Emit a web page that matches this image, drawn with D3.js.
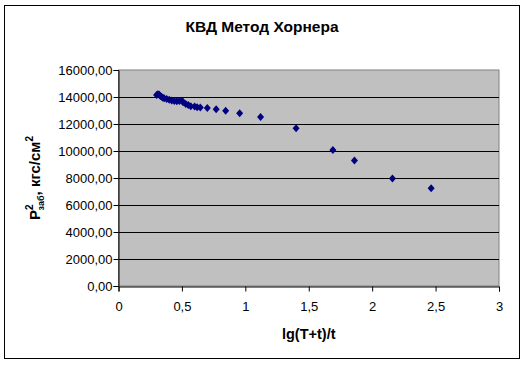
<!DOCTYPE html>
<html><head><meta charset="utf-8">
<script src="https://cdn.jsdelivr.net/npm/d3@7"></script>
<style>body{margin:0;background:#fff}svg{display:block;font-family:"Liberation Sans",Arial,sans-serif}</style>
</head><body><svg id="c" width="525" height="365"></svg>
<script>
const xVals = [0.30,0.31,0.32,0.33,0.34,0.35,0.36,0.38,0.40,0.42,0.44,0.46,0.48,0.50,0.51,0.53,0.55,0.57,0.60,0.62,0.645,0.70,0.77,0.845,0.955,1.12,1.40,1.69,1.86,2.16,2.465];
const yVals = [14150,14200,14180,14080,14020,13950,13900,13860,13800,13750,13700,13680,13700,13720,13620,13480,13400,13320,13300,13250,13220,13190,13090,12990,12800,12520,11680,10070,9300,7970,7250];
const xTicks = [0,0.5,1,1.5,2,2.5,3];
const yTicks = [0,2000,4000,6000,8000,10000,12000,14000,16000];
const title = "КВД Метод Хорнера";
const xTitle = "lg(T+t)/t";

const svg = d3.select("#c");
svg.append("rect").attr("x",4.5).attr("y",5.5).attr("width",515).attr("height",353).attr("fill","#fff").attr("stroke","#000");

const L=118.5, R=499, T=70, B=286;
const x = d3.scaleLinear().domain([0,3]).range([L,R]);
const y = d3.scaleLinear().domain([0,16000]).range([B,T]);

svg.append("rect").attr("x",L).attr("y",T).attr("width",R-L).attr("height",B-T).attr("fill","#c0c0c0").attr("stroke","#808080");

svg.append("g").selectAll("line").data(yTicks.filter(d=>d>0&&d<16000)).join("line")
  .attr("x1",L).attr("x2",R).attr("y1",d=>Math.round(y(d))+0.5).attr("y2",d=>Math.round(y(d))+0.5).attr("stroke","#000");

const fmt = d => d3.format(".2f")(d).replace(".",",");
const ya = svg.append("g").attr("transform",`translate(${L},0)`)
  .call(d3.axisLeft(y).tickValues(yTicks).tickFormat(fmt).tickSize(5).tickPadding(2));
const xa = svg.append("g").attr("transform",`translate(0,${B+0.5})`)
  .call(d3.axisBottom(x).tickValues(xTicks).tickFormat(d=>String(d).replace(".",",")).tickSize(5).tickPadding(16));
[ya,xa].forEach(a=>{a.attr("font-family",null).attr("font-size",null);
  a.select(".domain").attr("stroke","#000");a.selectAll("line").attr("stroke","#000");
  a.selectAll("text").attr("font-size",13).attr("fill","#000");});
ya.selectAll("text").attr("x",-6);
xa.selectAll("text").attr("dy","0.3em");

svg.append("g").selectAll("path").data(xVals.map((v,i)=>[v,yVals[i]])).join("path")
  .attr("transform",d=>`translate(${x(d[0])},${y(d[1])})`)
  .attr("d","M0,-4L3.5,0L0,4L-3.5,0Z").attr("fill","#000080");

svg.append("text").attr("x",262).attr("y",32).attr("text-anchor","middle").attr("font-size",15.5).attr("font-weight","bold").text(title);
svg.append("text").attr("x",(L+R)/2).attr("y",339).attr("text-anchor","middle").attr("font-size",14.5).attr("font-weight","bold").text(xTitle);

const yl = svg.append("text").attr("transform","translate(40,178) rotate(-90)").attr("text-anchor","middle").attr("font-size",15).attr("font-weight","bold");
yl.append("tspan").text("P");
yl.append("tspan").attr("font-size",10).attr("dy",-7).text("2");
yl.append("tspan").attr("font-size",9).attr("dx",-6).attr("dy",11).text("заб");
yl.append("tspan").attr("dy",-4).text(", кгс/см");
yl.append("tspan").attr("font-size",10).attr("dy",-7).text("2");
</script></body></html>
